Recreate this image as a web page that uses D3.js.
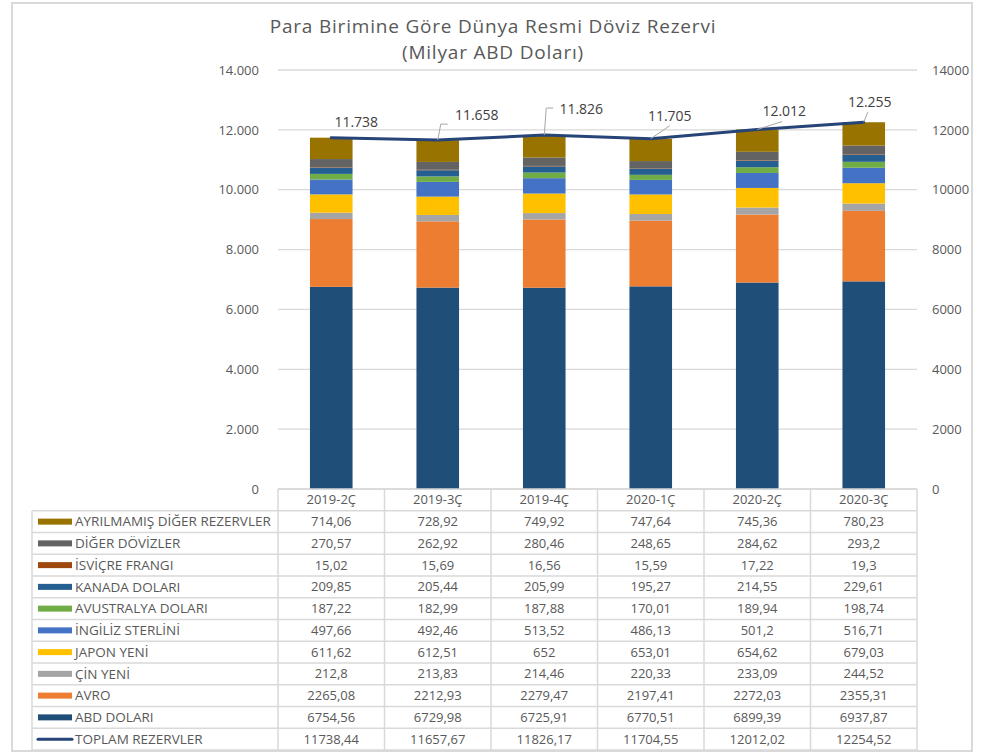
<!DOCTYPE html>
<html>
<head>
<meta charset="utf-8">
<script src="https://cdn.jsdelivr.net/npm/d3@7"></script>
<style>
  body { margin: 0; background: #fff; }
  text { font-family: "Open Sans", sans-serif; }
</style>
</head>
<body>
<svg id="chart" width="981" height="754"></svg>
<script>
// DATA
var categories = ["2019-2Ç", "2019-3Ç", "2019-4Ç", "2020-1Ç", "2020-2Ç", "2020-3Ç"];
var abd        = [6754.56, 6729.98, 6725.91, 6770.51, 6899.39, 6937.87];
var avro       = [2265.08, 2212.93, 2279.47, 2197.41, 2272.03, 2355.31];
var cin        = [212.8, 213.83, 214.46, 220.33, 233.09, 244.52];
var japon      = [611.62, 612.51, 652, 653.01, 654.62, 679.03];
var ingiliz    = [497.66, 492.46, 513.52, 486.13, 501.2, 516.71];
var avustralya = [187.22, 182.99, 187.88, 170.01, 189.94, 198.74];
var kanada     = [209.85, 205.44, 205.99, 195.27, 214.55, 229.61];
var isvicre    = [15.02, 15.69, 16.56, 15.59, 17.22, 19.3];
var diger      = [270.57, 262.92, 280.46, 248.65, 284.62, 293.2];
var ayrilmamis = [714.06, 728.92, 749.92, 747.64, 745.36, 780.23];
var toplam     = [11738.44, 11657.67, 11826.17, 11704.55, 12012.02, 12254.52];
var yTicks     = [0, 2000, 4000, 6000, 8000, 10000, 12000, 14000];

// series, bottom of stack first
var series = [
    { name: "ABD DOLARI", values: abd, color: "#1f4e79" },
    { name: "AVRO", values: avro, color: "#ed7d31" },
    { name: "ÇİN YENİ", values: cin, color: "#a5a5a5" },
    { name: "JAPON YENİ", values: japon, color: "#ffc000" },
    { name: "İNGİLİZ STERLİNİ", values: ingiliz, color: "#4472c4" },
    { name: "AVUSTRALYA DOLARI", values: avustralya, color: "#70ad47" },
    { name: "KANADA DOLARI", values: kanada, color: "#255e91" },
    { name: "İSVİÇRE FRANGI", values: isvicre, color: "#9e480e" },
    { name: "DİĞER DÖVİZLER", values: diger, color: "#636363" },
    { name: "AYRILMAMIŞ DİĞER REZERVLER", values: ayrilmamis, color: "#997300" }
];
var lineColor = "#264478";

// label placement (text centre / leader end, relative to the point)
var labelPos = [[25, -16], [39, -25], [37, -26], [19, -23], [27, -18], [6, -20]];
var leaders = [null, [[3, -16], [10, -16]], [[2, -27], [9, -27]], [[19, -13]], [[25, -8]], [[4, -10]]];

var svg = d3.select("#chart");
var textColor = "#595959";
var gridColor = "#d9d9d9";

// chart border
svg.append("rect")
    .attr("x", 12).attr("y", 3)
    .attr("width", 960).attr("height", 748)
    .attr("fill", "none")
    .attr("stroke", gridColor)
    .attr("stroke-width", 2);

// Title
svg.append("text")
    .attr("x", 493).attr("y", 33)
    .attr("text-anchor", "middle")
    .style("font-size", "19px")
    .style("letter-spacing", "0.8px")
    .attr("fill", textColor)
    .text("Para Birimine Göre Dünya Resmi Döviz Rezervi");
svg.append("text")
    .attr("x", 493).attr("y", 59)
    .attr("text-anchor", "middle")
    .style("font-size", "19px")
    .style("letter-spacing", "0.8px")
    .attr("fill", textColor)
    .text("(Milyar ABD Doları)");

// Scales
var plotLeft = 278, plotRight = 917, plotTop = 70, plotBottom = 489;
var x = d3.scaleBand()
    .domain(categories)
    .range([plotLeft, plotRight])
    .paddingInner(0.6)
    .paddingOuter(0.3);
var y = d3.scaleLinear()
    .domain([0, 14000])
    .range([plotBottom, plotTop]);

// Gridlines
svg.append("g")
    .selectAll("line")
    .data(yTicks)
    .enter()
    .append("line")
        .attr("x1", plotLeft).attr("x2", plotRight)
        .attr("y1", d => y(d)).attr("y2", d => y(d))
        .attr("stroke", gridColor)
        .attr("stroke-width", 1.3);

// Left / right axes (labels only)
var leftAxis = svg.append("g")
    .attr("transform", "translate(" + (plotLeft - 16) + ",0)")
    .call(d3.axisLeft(y).tickValues(yTicks).tickSize(0)
        .tickFormat(d => d3.format(",")(d).replace(/,/g, ".")));
var rightAxis = svg.append("g")
    .attr("transform", "translate(" + (plotRight + 12) + ",0)")
    .call(d3.axisRight(y).tickValues(yTicks).tickSize(0).tickFormat(d => String(d)));
[leftAxis, rightAxis].forEach(function(a) {
    a.select(".domain").remove();
    a.selectAll("text")
        .attr("fill", textColor)
        .style("font-size", "13px")
        .style("font-family", "'Open Sans', sans-serif");
});

// Stacked bars
var rows = categories.map(function(c, i) {
    var r = { cat: c };
    series.forEach(s => r[s.name] = s.values[i]);
    return r;
});
var stacked = d3.stack().keys(series.map(s => s.name))(rows);

svg.append("g")
    .selectAll("g")
    .data(stacked)
    .enter()
    .append("g")
        .attr("fill", (d, i) => series[i].color)
    .selectAll("rect")
    .data(d => d)
    .enter()
    .append("rect")
        .attr("x", d => x(d.data.cat))
        .attr("width", x.bandwidth())
        .attr("y", d => y(d[1]))
        .attr("height", d => y(d[0]) - y(d[1]));

// Total line
var cx = d => x(d) + x.bandwidth() / 2;
var points = categories.map((c, i) => [cx(c), y(toplam[i])]);

svg.append("path")
    .datum(points)
    .attr("fill", "none")
    .attr("stroke", lineColor)
    .attr("stroke-width", 3)
    .attr("stroke-linecap", "round")
    .attr("d", d3.line());

// Leader lines + labels
points.forEach(function(p, i) {
    if (leaders[i]) {
        var pts = [p].concat(leaders[i].map(o => [p[0] + o[0], p[1] + o[1]]));
        svg.append("path")
            .attr("d", d3.line()(pts))
            .attr("fill", "none")
            .attr("stroke", "#a6a6a6")
            .attr("stroke-width", 1);
    }
    svg.append("text")
        .attr("x", p[0] + labelPos[i][0])
        .attr("y", p[1] + labelPos[i][1])
        .attr("dy", "0.35em")
        .attr("text-anchor", "middle")
        .style("font-size", "14px")
        .attr("fill", "#404040")
        .text(d3.format(",.0f")(toplam[i]).replace(/,/g, "."));
});

// DATA TABLE
var tableLeft = 32, rowH = 21.75;
var tableRows = series.slice().reverse().map(s => ({ name: s.name, values: s.values, color: s.color, line: false }));
tableRows.push({ name: "TOPLAM REZERVLER", values: toplam, color: lineColor, line: true });
var tableBottom = plotBottom + rowH * (tableRows.length + 1);
var table = svg.append("g");

// header row
categories.forEach(function(c) {
    table.append("text")
        .attr("x", cx(c))
        .attr("y", plotBottom + rowH / 2)
        .attr("dy", "0.35em")
        .attr("text-anchor", "middle")
        .style("font-size", "13px")
        .attr("fill", textColor)
        .text(c);
});

tableRows.forEach(function(r, i) {
    var rowY = plotBottom + rowH * (i + 1);
    var midY = rowY + rowH / 2;
    if (r.line) {
        table.append("line")
            .attr("x1", 38).attr("x2", 72)
            .attr("y1", midY).attr("y2", midY)
            .attr("stroke", r.color)
            .attr("stroke-width", 3)
            .attr("stroke-linecap", "round");
    } else {
        table.append("rect")
            .attr("x", 38).attr("y", midY - 3)
            .attr("width", 34).attr("height", 6)
            .attr("fill", r.color);
    }
    table.append("text")
        .attr("x", 75)
        .attr("y", midY)
        .attr("dy", "0.35em")
        .style("font-size", "13.5px")
        .attr("fill", textColor)
        .text(r.name);
    r.values.forEach(function(v, j) {
        table.append("text")
            .attr("x", cx(categories[j]))
            .attr("y", midY)
            .attr("dy", "0.35em")
            .attr("text-anchor", "middle")
            .style("font-size", "13px")
            .attr("fill", textColor)
            .text(String(v).replace(".", ","));
    });
});

// table grid
var hLines = d3.range(tableRows.length + 2).map(i => plotBottom + rowH * i);
hLines.forEach(function(hy, i) {
    table.append("line")
        .attr("x1", i == 0 ? plotLeft : tableLeft).attr("x2", plotRight)
        .attr("y1", hy).attr("y2", hy)
        .attr("stroke", gridColor)
        .attr("stroke-width", 1.5);
});
var vLines = [plotLeft].concat(categories.map(c => x(c) + x.bandwidth() / 2 + x.step() / 2));
vLines.forEach(function(vx) {
    table.append("line")
        .attr("x1", vx).attr("x2", vx)
        .attr("y1", plotBottom).attr("y2", tableBottom)
        .attr("stroke", gridColor)
        .attr("stroke-width", 1.5);
});
table.append("line")
    .attr("x1", tableLeft).attr("x2", tableLeft)
    .attr("y1", plotBottom + rowH).attr("y2", tableBottom)
    .attr("stroke", gridColor)
    .attr("stroke-width", 1.5);
</script>
</body>
</html>
